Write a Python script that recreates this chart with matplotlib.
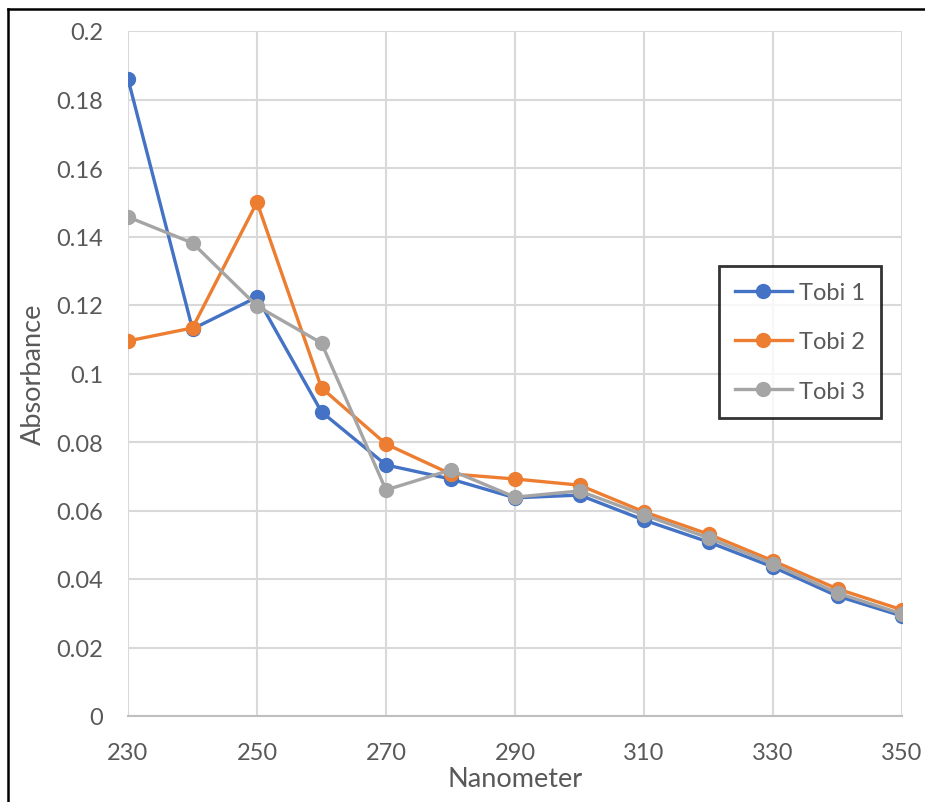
import matplotlib
matplotlib.use("Agg")
import matplotlib.pyplot as plt
from matplotlib.lines import Line2D

wavelength = [230, 240, 250, 260, 270, 280, 290, 300, 310, 320, 330, 340, 350]
tobi1 = [0.186, 0.113, 0.1223, 0.0888, 0.0733, 0.0692, 0.0637, 0.0645, 0.0572, 0.0508, 0.0435, 0.035, 0.0292]
tobi2 = [0.1095, 0.1133, 0.150, 0.0958, 0.0794, 0.0707, 0.0692, 0.0674, 0.0596, 0.0531, 0.0453, 0.0371, 0.031]
tobi3 = [0.1457, 0.1381, 0.1197, 0.1089, 0.066, 0.0718, 0.0639, 0.0657, 0.0587, 0.052, 0.0444, 0.0359, 0.0298]
series_names = ["Tobi 1", "Tobi 2", "Tobi 3"]
colors = ["#4472C4", "#ED7D31", "#A5A5A5"]
xticks = [230, 250, 270, 290, 310, 330, 350]
yticks = [0, 0.02, 0.04, 0.06, 0.08, 0.1, 0.12, 0.14, 0.16, 0.18, 0.2]
ytick_labels = ["0", "0.02", "0.04", "0.06", "0.08", "0.1", "0.12", "0.14", "0.16", "0.18", "0.2"]

plt.rcParams['font.family'] = ['Lato', 'DejaVu Sans']

fig = plt.figure(figsize=(9.25, 8.03), dpi=100)
ax = fig.add_axes([128/925, 1-717/803, (902-128)/925, (717-32)/803])

for name, vals, c in zip(series_names, [tobi1, tobi2, tobi3], colors):
    ax.plot(wavelength, vals, color=c, lw=2.4, marker='o', ms=10, label=name, zorder=3)

ax.set_xlim(230, 350)
ax.set_ylim(0, 0.2)
ax.set_xticks(xticks)
ax.set_xticklabels([str(t) for t in xticks])
ax.set_yticks(yticks)
ax.set_yticklabels(ytick_labels)
ax.grid(True, color="#D9D9D9", lw=1.5, zorder=0)
ax.set_axisbelow(True)
for s in ['top', 'right', 'left']:
    ax.spines[s].set_visible(False)
ax.spines['bottom'].set_color("#BFBFBF")
ax.spines['bottom'].set_linewidth(1.5)
ax.tick_params(axis='both', length=0, labelsize=17, colors="#595959")
ax.tick_params(axis='x', pad=19)
ax.tick_params(axis='y', pad=18)

ax.set_xlabel("Nanometer", fontsize=19.5, color="#595959", labelpad=2)
ax.set_ylabel("Absorbance", fontsize=19.5, color="#595959", labelpad=7)

leg = ax.legend(loc='upper left', bbox_to_anchor=((719-128)/774, (717-267)/685),
                fontsize=17, frameon=True, fancybox=False, edgecolor='black',
                labelspacing=1.2, handlelength=2.4, borderpad=0.68, handletextpad=0.3,
                borderaxespad=0)
leg.get_frame().set_linewidth(2)
for t in leg.get_texts():
    t.set_color("#595959")

# outer border lines (left and top)
fig.add_artist(Line2D([8/925, 8/925], [0, 1-10/803], transform=fig.transFigure, color='black', lw=1.8))
fig.add_artist(Line2D([8/925, 1], [1-10/803, 1-10/803], transform=fig.transFigure, color='black', lw=1.8))

fig.savefig("out.png", dpi=100)
